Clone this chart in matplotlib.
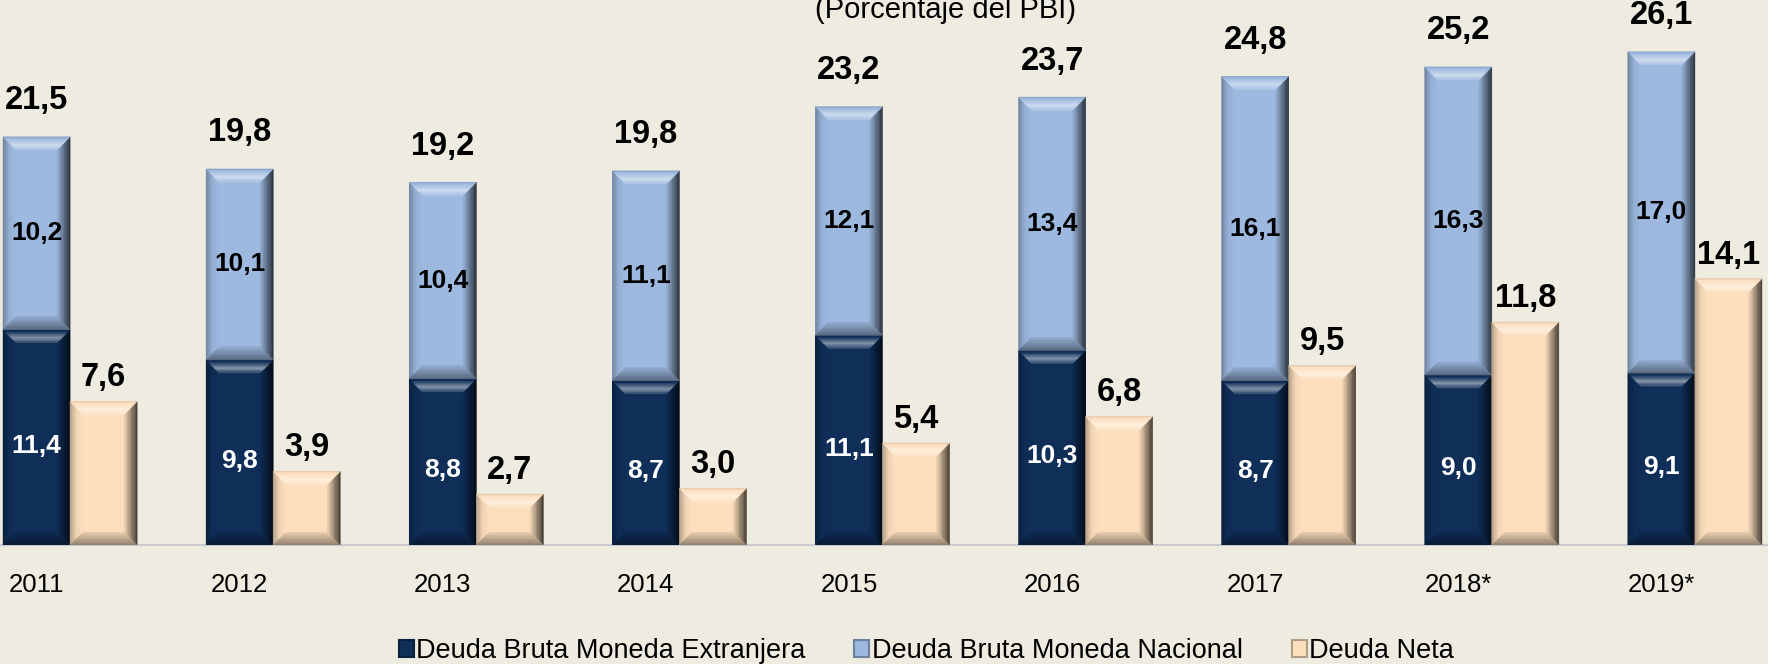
import matplotlib
matplotlib.use("Agg")
import matplotlib.pyplot as plt
import numpy as np
from matplotlib.patches import Patch, Polygon
from matplotlib.colors import to_rgb

plt.rcParams['font.family'] = ['Liberation Sans', 'DejaVu Sans']

# 数据
years = ["2011", "2012", "2013", "2014", "2015", "2016", "2017", "2018*", "2019*"]
extranjera = [11.4, 9.8, 8.8, 8.7, 11.1, 10.3, 8.7, 9.0, 9.1]
nacional = [10.2, 10.1, 10.4, 11.1, 12.1, 13.4, 16.1, 16.3, 17.0]
total = [21.5, 19.8, 19.2, 19.8, 23.2, 23.7, 24.8, 25.2, 26.1]
neta = [7.6, 3.9, 2.7, 3.0, 5.4, 6.8, 9.5, 11.8, 14.1]
series_names = ["Deuda Bruta Moneda Extranjera", "Deuda Bruta Moneda Nacional", "Deuda Neta"]

BG = "#EEEBE0"
C_EXT = "#0F2E58"
C_NAC = "#9DB9E0"
C_NETA = "#FDDFBE"


def fmt(v):
    return f"{v:.1f}".replace(".", ",")


def mix(c, other, t):
    c = np.array(to_rgb(c))
    o = np.array(to_rgb(other))
    return tuple(c * (1 - t) + o * t)


def shade(color, stops, t):
    """按 t 在 stops [(t, 混合量)] 之间插值，正值变亮，负值变暗"""
    ts = [s[0] for s in stops]
    vs = [s[1] for s in stops]
    v = np.interp(t, ts, vs)
    return mix(color, "white", v) if v >= 0 else mix(color, "black", -v)


def bevel(ax, rect, color, px=13, n=10):
    """在柱子上画渐变斜面效果"""
    x0, y0 = rect.get_x(), rect.get_y()
    w, h = rect.get_width(), rect.get_height()
    p0 = ax.transData.transform((0, 0))
    p1 = ax.transData.transform((1, 1))
    bx = px / (p1[0] - p0[0])
    by = min(px / (p1[1] - p0[1]), h / 2)
    x1, y1 = x0 + w, y0 + h
    sides = {
        "top": [(0, -0.15), (0.65, 0.5), (1, 0.15)],
        "bottom": [(0, -0.45), (1, -0.08)],
        "left": [(0, -0.3), (0.5, -0.05), (1, 0.0)],
        "right": [(0, -0.75), (1, -0.05)],
    }
    for k in range(n):
        a, b = k / n, (k + 1) / n
        tm = (a + b) / 2
        polys = {
            "top": [(x0 + a * bx, y1 - a * by), (x1 - a * bx, y1 - a * by),
                    (x1 - b * bx, y1 - b * by), (x0 + b * bx, y1 - b * by)],
            "bottom": [(x0 + a * bx, y0 + a * by), (x1 - a * bx, y0 + a * by),
                       (x1 - b * bx, y0 + b * by), (x0 + b * bx, y0 + b * by)],
            "left": [(x0 + a * bx, y0 + a * by), (x0 + a * bx, y1 - a * by),
                     (x0 + b * bx, y1 - b * by), (x0 + b * bx, y0 + b * by)],
            "right": [(x1 - a * bx, y0 + a * by), (x1 - a * bx, y1 - a * by),
                      (x1 - b * bx, y1 - b * by), (x1 - b * bx, y0 + b * by)],
        }
        for side in ["left", "right", "top", "bottom"]:
            fc = shade(color, sides[side], tm)
            ax.add_patch(Polygon(polys[side], closed=True, facecolor=fc, edgecolor=fc,
                                 linewidth=0.4, zorder=3))


fig = plt.figure(figsize=(17.68, 6.64), dpi=100, facecolor=BG)
ax = fig.add_axes((0, 0.179, 1, 0.821))
ax.set_facecolor(BG)

x = np.arange(len(years))
w = 0.33
ax.set_xlim(-0.345, 8.36)
ax.set_ylim(0, 28.84)

b1 = ax.bar(x - w / 2, extranjera, w, color=C_EXT, zorder=2)
b2 = ax.bar(x - w / 2, nacional, w, bottom=extranjera, color=C_NAC, zorder=2)
b3 = ax.bar(x + w / 2, neta, w, color=C_NETA, zorder=2)

for bars, c in [(b1, C_EXT), (b2, C_NAC), (b3, C_NETA)]:
    for r in bars:
        bevel(ax, r, c)

# 标签
for i in range(len(years)):
    ax.annotate(fmt(extranjera[i]), (x[i] - w / 2, extranjera[i] / 2), xytext=(0, -6),
                textcoords="offset points", ha="center", va="center",
                color="white", fontsize=19, fontweight="bold", zorder=5)
    ax.text(x[i] - w / 2, extranjera[i] + nacional[i] / 2, fmt(nacional[i]), ha="center", va="center",
            color="black", fontsize=19, fontweight="bold", zorder=5)
    ax.annotate(fmt(total[i]), (x[i] - w / 2, extranjera[i] + nacional[i]), xytext=(0, 26),
                textcoords="offset points", ha="center", va="center", fontsize=23.5, fontweight="bold")
    ax.annotate(fmt(neta[i]), (x[i] + w / 2, neta[i]), xytext=(0, 17),
                textcoords="offset points", ha="center", va="center", fontsize=23.5, fontweight="bold")

ax.set_xticks(x - w / 2)
ax.set_xticklabels(years, fontsize=18.5)
ax.tick_params(axis="x", length=0, pad=20)
ax.set_yticks([])
for s in ["top", "right", "left"]:
    ax.spines[s].set_visible(False)
ax.spines["bottom"].set_color("#C9CBD0")
ax.spines["bottom"].set_linewidth(1.5)

fig.text(0.535, 1 - 18 / 664, "(Porcentaje del PBI)", ha="center", va="baseline", fontsize=21)

handles = [Patch(facecolor=c, edgecolor=mix(c, "black", 0.3), linewidth=1.5) for c in (C_EXT, C_NAC, C_NETA)]
fig.legend(handles, series_names, loc="center", bbox_to_anchor=(0.524, 1 - 651 / 664), ncol=3,
           frameon=False, fontsize=19.5, handlelength=0.55, handleheight=0.55, handletextpad=0.1,
           columnspacing=1.8)

fig.savefig("out.png", dpi=100, facecolor=BG)
